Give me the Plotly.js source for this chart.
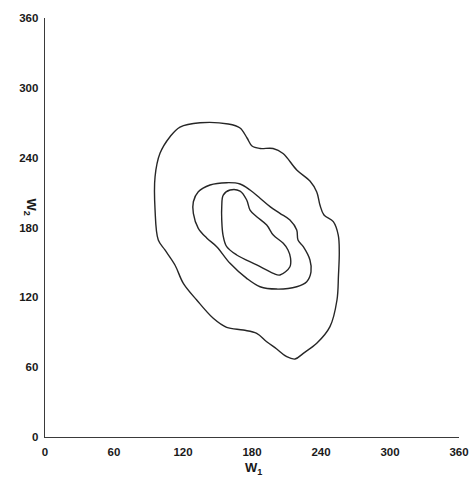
<!DOCTYPE html>
<html>
<head>
<meta charset="utf-8">
<script src="https://cdn.plot.ly/plotly-3.0.1.min.js"></script>
<style>html,body{margin:0;padding:0;background:#fff;}</style>
</head>
<body>
<div id="chart" style="width:471px;height:478px;"></div>
<script>
// Outer contour
const outerW1 = [134.8,159.4,169.6,175.7,180.0,187.0,198.3,207.0,218.9,230.4,236.3,239.1,242.6,250.7,255.0,255.9,255.2,253.9,247.8,236.3,224.6,217.4,210.2,201.5,192.8,184.1,172.4,158.0,146.3,131.9,120.3,113.0,104.3,98.5,95.7,95.7,100.0,108.7,117.4,134.8];
const outerW2 = [270.0,268.9,265.5,256.9,250.0,247.9,247.9,243.6,229.4,219.9,210.5,199.3,190.7,185.0,173.5,158.9,139.2,117.7,94.8,80.5,71.9,67.0,69.0,75.6,81.9,89.1,91.9,94.2,102.0,117.7,132.0,147.8,160.7,169.2,195.0,223.6,243.7,258.0,266.3,270.0];
// Middle contour
const midW1 = [129.0,133.3,143.5,158.0,169.6,178.3,187.0,195.7,204.3,213.0,218.9,220.0,224.6,230.4,231.3,227.6,218.9,201.5,187.0,175.4,160.9,149.3,140.6,133.3,129.0,129.0];
const midW2 = [202.1,210.7,216.5,218.5,217.4,212.2,205.1,197.9,192.2,186.4,177.8,169.2,163.5,152.1,141.8,133.4,129.1,127.1,129.1,136.3,149.2,163.5,171.0,179.3,192.2,202.1];
// Inner contour
const innerW1 = [155.0,160.9,169.6,175.4,178.3,184.1,192.8,198.5,207.2,211.3,213.5,213.0,204.3,198.5,184.1,166.7,158.0,154.8,153.7,153.7,155.0];
const innerW2 = [207.9,212.2,211.3,203.6,195.0,189.3,182.1,173.5,166.4,160.7,153.8,146.3,139.2,140.6,147.8,156.4,163.5,173.5,186.4,197.9,207.9];

const tickVals = [0,60,120,180,240,300,360];
const tickText = ['0','60','120','180','240','300','360'];

const lineStyle = {color:'#262626', width:1.4, shape:'spline', smoothing:1};
const traces = [
  {x: outerW1, y: outerW2, mode:'lines', line: lineStyle, hoverinfo:'skip'},
  {x: midW1, y: midW2, mode:'lines', line: lineStyle, hoverinfo:'skip'},
  {x: innerW1, y: innerW2, mode:'lines', line: lineStyle, hoverinfo:'skip'}
];

const fontFam = 'Liberation Sans, Arial, sans-serif';
const tickFont = {family:fontFam, size:11.5, color:'#1a1a1a', weight:'bold'};
const layout = {
  width: 471, height: 478,
  margin: {l:45, r:12, t:18, b:41},
  paper_bgcolor:'#ffffff', plot_bgcolor:'#ffffff',
  showlegend:false,
  xaxis: {
    range:[0,360], tickvals: tickVals, ticktext: tickText,
    showgrid:false, zeroline:false, showline:true, linecolor:'#3a3a3a', linewidth:1.3,
    ticks:'', ticklabelstandoff:4, tickfont: tickFont, fixedrange:true
  },
  yaxis: {
    range:[0,360], tickvals: tickVals, ticktext: tickText,
    showgrid:false, zeroline:false, showline:true, linecolor:'#3a3a3a', linewidth:1.3,
    ticks:'', ticklabelstandoff:3, tickfont: tickFont, fixedrange:true
  },
  annotations: [
    {text:'W<sub>1</sub>', xref:'x', yref:'paper', x:181, y:-0.074, showarrow:false,
     font:{family:fontFam, size:13, color:'#1a1a1a', weight:'bold'}, xanchor:'center', yanchor:'middle'},
    {text:'W<sub>2</sub>', xref:'paper', yref:'y', x:-0.036, y:198, showarrow:false, textangle:90,
     font:{family:fontFam, size:13, color:'#1a1a1a', weight:'bold'}, xanchor:'center', yanchor:'middle'}
  ]
};
Plotly.newPlot('chart', traces, layout, {displayModeBar:false, staticPlot:true});
</script>
</body>
</html>
